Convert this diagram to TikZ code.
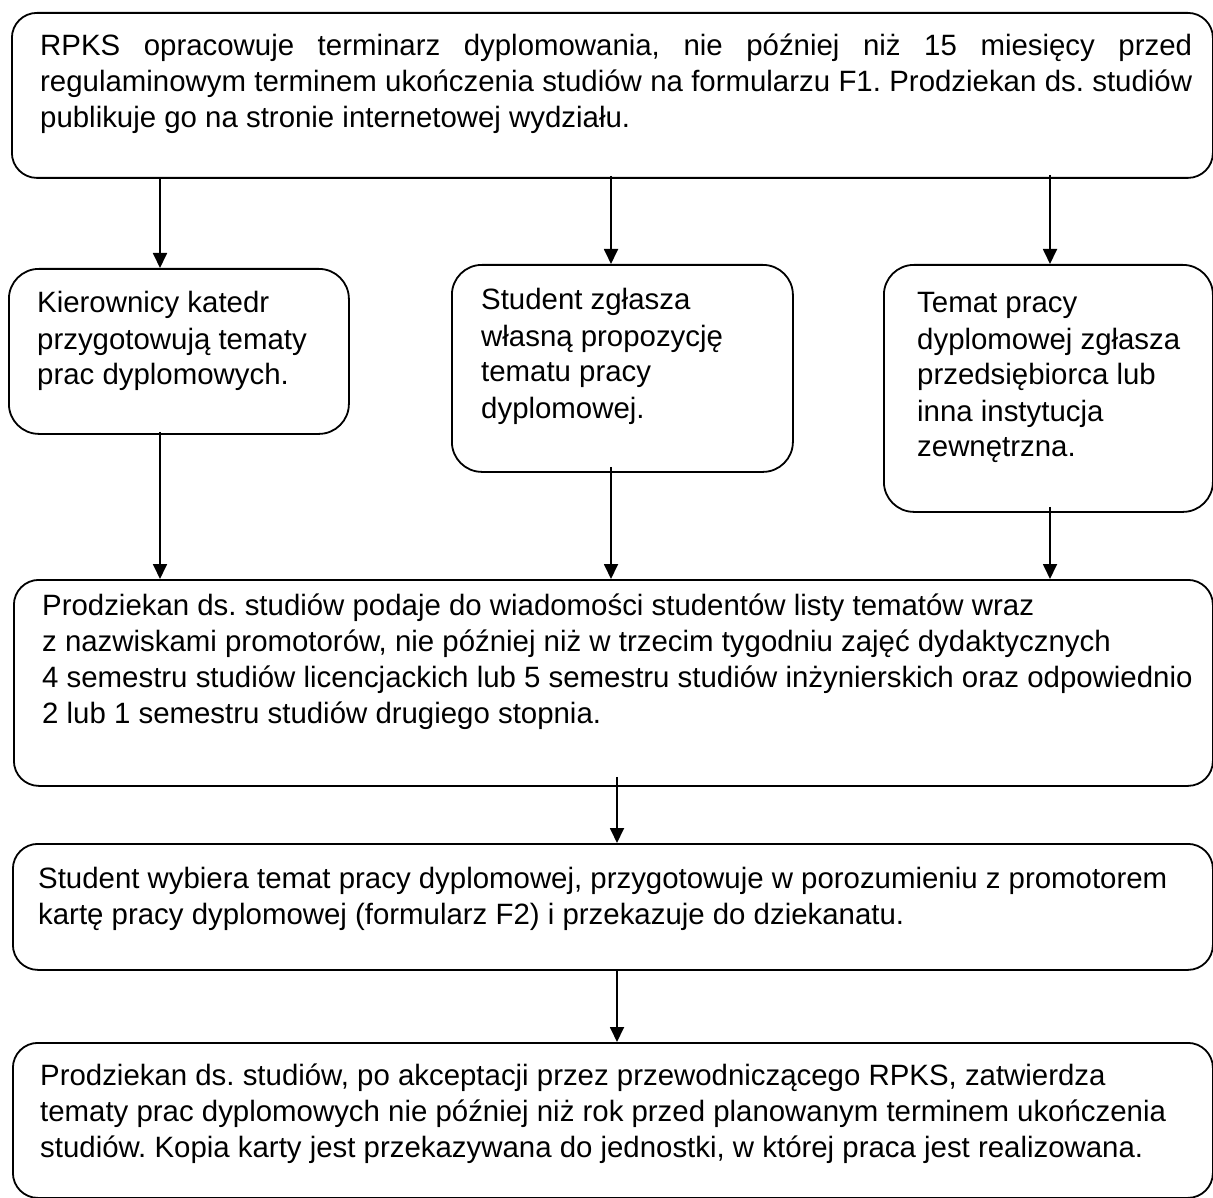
\documentclass[tikz,border=0pt]{standalone}
\usepackage{fontspec}
\setmainfont{Liberation Sans}
\usetikzlibrary{arrows.meta}
\frenchspacing
\tikzset{
  box/.style={draw, line width=1.8pt, rounded corners=25pt, inner sep=0pt, anchor=north west},
  smallbox/.style={box, rounded corners=30pt},
  txt/.style={inner sep=0pt, anchor=base west, font=\fontsize{29.4}{36}\selectfont},
  arr/.style={line width=1.8pt, -{Triangle[length=15pt,width=14pt]}}
}
\newcommand{\tl}[2]{\parbox[t]{#1}{\raggedright #2}}
\begin{document}
\begin{tikzpicture}[x=1pt,y=-1pt]
\useasboundingbox (0,0) rectangle (1213,1198);
% boxes
\node[box, minimum width=1201pt, minimum height=165pt] (b1) at (11,12) {};
\node[smallbox, minimum width=340pt, minimum height=165pt] (b2) at (8,268) {};
\node[smallbox, minimum width=341pt, minimum height=207pt] (b3) at (451,264) {};
\node[smallbox, minimum width=329pt, minimum height=247pt] (b4) at (883,264) {};
\node[box, minimum width=1199pt, minimum height=206pt] (b5) at (13,579) {};
\node[box, minimum width=1200pt, minimum height=126pt] (b6) at (12,843) {};
\node[box, minimum width=1200pt, minimum height=155pt] (b7) at (12,1042) {};
% texts
\node[txt] (t1) at (40,56) {\parbox[t]{1152pt}{RPKS opracowuje terminarz dyplomowania, nie później niż 15 miesięcy przed\linebreak regulaminowym terminem ukończenia studiów na formularzu F1. Prodziekan ds. studiów\linebreak publikuje go na stronie internetowej wydziału.}};
\node[txt] (t2) at (37,313) {\tl{300pt}{Kierownicy katedr\\przygotowują tematy\\prac dyplomowych.}};
\node[txt] (t3) at (481,310) {\tl{300pt}{Student zgłasza\\własną propozycję\\tematu pracy\\dyplomowej.}};
\node[txt] (t4) at (917,313) {\tl{290pt}{Temat pracy\\dyplomowej zgłasza\\przedsiębiorca lub\\inna instytucja\\zewnętrzna.}};
\node[txt] (t5) at (42,615) {\tl{1200pt}{Prodziekan ds. studiów podaje do wiadomości studentów listy tematów wraz\\z nazwiskami promotorów, nie później niż w trzecim tygodniu zajęć dydaktycznych\\4 semestru studiów licencjackich lub 5 semestru studiów inżynierskich oraz odpowiednio\\2 lub 1 semestru studiów drugiego stopnia.}};
\node[txt] (t6) at (38,888) {\tl{1200pt}{Student wybiera temat pracy dyplomowej, przygotowuje w porozumieniu z promotorem\\kartę pracy dyplomowej (formularz F2) i przekazuje do dziekanatu.}};
\node[txt] (t7) at (40,1085) {\tl{1200pt}{Prodziekan ds. studiów, po akceptacji przez przewodniczącego RPKS, zatwierdza\\tematy prac dyplomowych nie później niż rok przed planowanym terminem ukończenia\\studiów. Kopia karty jest przekazywana do jednostki, w której praca jest realizowana.}};
% arrow columns
\coordinate (c1) at (160,0);
\coordinate (c2) at (611,0);
\coordinate (c3) at (1050,0);
\coordinate (c4) at (617,0);
% connectors
\draw[arr] (b1.south -| c1) -- (b2.north -| c1);
\draw[arr] ([yshift=3pt]b1.south -| c2) -- (b3.north -| c2);
\draw[arr] ([yshift=4pt]b1.south -| c3) -- (b4.north -| c3);
\draw[arr] ([yshift=3pt]b2.south -| c1) -- (b5.north -| c1);
\draw[arr] ([yshift=6pt]b3.south -| c2) -- (b5.north -| c2);
\draw[arr] ([yshift=6pt]b4.south -| c3) -- (b5.north -| c3);
\draw[arr] ([yshift=10pt]b5.south -| c4) -- (b6.north -| c4);
\draw[arr] ([yshift=1pt]b6.south -| c4) -- (b7.north -| c4);
\end{tikzpicture}
\end{document}
